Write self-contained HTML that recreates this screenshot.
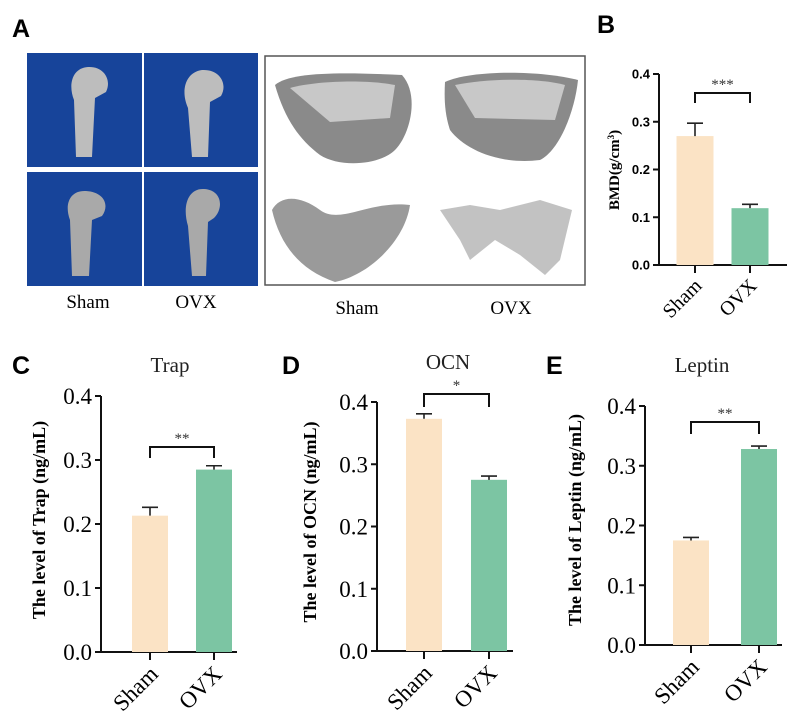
<!DOCTYPE html>
<html><head><meta charset="utf-8"><style>
html,body{margin:0;padding:0;background:#fff;}
svg{display:block;font-family:"Liberation Serif",serif;}
.lt{font-family:"Liberation Sans",sans-serif;font-weight:bold;font-size:25px;}
</style></head><body>
<svg id="fig" width="796" height="724" viewBox="0 0 796 724">
<text class="lt" x="12" y="37">A</text>
<g>
<rect x="27" y="53" width="115" height="114" fill="#17449a"/>
<rect x="144" y="53" width="114" height="114" fill="#17449a"/>
<rect x="27" y="172" width="115" height="114" fill="#17449a"/>
<rect x="144" y="172" width="114" height="114" fill="#17449a"/>
<path d="M76,157 L74,100 C68,85 72,68 88,67 C104,66 112,80 106,92 L95,98 L92,157 Z" fill="#bdbdbd"/>
<path d="M192,157 L188,108 C180,90 186,72 202,70 C220,69 228,84 221,96 L210,102 L208,157 Z" fill="#bdbdbd"/>
<path d="M72,276 L70,220 C64,204 70,190 86,191 C104,192 110,205 102,216 L92,220 L89,276 Z" fill="#a9a9a9"/>
<path d="M192,276 L188,226 C182,206 188,188 204,189 C222,190 224,208 214,218 L208,222 L206,276 Z" fill="#a9a9a9"/>
</g>
<rect x="265" y="56" width="320" height="229" fill="#fff" stroke="#555" stroke-width="1.5"/>
<path d="M275,85 C290,72 340,72 402,75 C420,95 410,135 395,150 C380,165 340,168 320,155 C300,140 285,120 275,85 Z" fill="#8a8a8a"/>
<path d="M290,88 C320,80 370,80 395,85 L390,118 L330,122 Z" fill="#c8c8c8"/>
<path d="M445,82 C470,70 540,70 578,80 C575,110 560,150 540,160 C500,165 465,150 450,130 C445,115 444,100 445,82 Z" fill="#8a8a8a"/>
<path d="M455,85 C490,78 540,78 565,85 L555,120 L475,118 Z" fill="#c8c8c8"/>
<path d="M272,210 C280,195 300,195 320,210 C340,225 370,200 410,205 C405,240 370,275 335,282 C300,270 280,245 272,210 Z" fill="#9a9a9a"/>
<path d="M440,210 L470,205 L500,210 L540,200 L572,210 L560,260 L545,275 L520,255 L495,240 L470,260 L460,240 Z" fill="#a8a8a8" opacity="0.7"/>
<text x="88" y="308" font-size="19" text-anchor="middle">Sham</text>
<text x="196" y="308" font-size="19" text-anchor="middle">OVX</text>
<text x="357" y="314" font-size="19" text-anchor="middle">Sham</text>
<text x="511" y="314" font-size="19" text-anchor="middle">OVX</text>
<text class="lt" x="597" y="33">B</text>
<text class="lt" x="12" y="374">C</text>
<text class="lt" x="282" y="374">D</text>
<text class="lt" x="546" y="374">E</text>
</svg>
<script>
const categories = ["Sham", "OVX"];
const bmdValues = [0.27, 0.119];
const bmdErrors = [0.027, 0.008];
const trapValues = [0.213, 0.285];
const trapErrors = [0.013, 0.006];
const ocnValues = [0.373, 0.275];
const ocnErrors = [0.008, 0.006];
const leptinValues = [0.175, 0.328];
const leptinErrors = [0.005, 0.005];
const yTicks = [0.0, 0.1, 0.2, 0.3, 0.4];
const yTickLabels = ["0.0", "0.1", "0.2", "0.3", "0.4"];
const colors = ["#fbe3c5", "#7cc5a3"];
const NS = "http://www.w3.org/2000/svg";
const svg = document.getElementById("fig");
function mk(tag, attrs, parent, text) {
  const e = document.createElementNS(NS, tag);
  for (const k in attrs) e.setAttribute(k, attrs[k]);
  if (text !== undefined) e.textContent = text;
  parent.appendChild(e);
  return e;
}
function panel(p) {
  const g = mk("g", {}, svg);
  
  
  const y = v => p.y0 - (v / 0.4) * (p.y0 - p.y4);
  const ax = mk("path", {d: `M${p.ax},${p.y4} V${p.y0} H${p.axEnd}`, stroke: "#111", "stroke-width": 2, fill: "none"}, g);
  
  
  yTicks.forEach((t, i) => {
    const tk = mk("line", {x1: p.ax - 6, x2: p.ax, y1: y(t), y2: y(t), stroke: "#111", "stroke-width": 2}, g);
    
    
    const tl = mk("text", {x: p.ax - 9, y: y(t) + p.tickFs * 0.35, "text-anchor": "end", "font-size": p.tickFs, style: p.sansTicks ? "font-family:'Liberation Sans',sans-serif;font-weight:bold" : ""}, g, yTickLabels[i]);
    
    
  });
  categories.forEach((c, i) => {
    const v = p.values[i], e = p.errors[i];
    const cx = p.cx[i];
    const bar = mk("rect", {x: cx - p.bw / 2, y: y(v), width: p.bw, height: p.y0 - y(v), fill: colors[i]}, g);
    
    
    const eb = mk("path", {d: `M${cx},${y(v)} V${y(v + e)} M${cx - 8},${y(v + e)} H${cx + 8}`, stroke: "#222", "stroke-width": 1.6, fill: "none"}, g);
    
    
    const xt = mk("line", {x1: cx, x2: cx, y1: p.y0, y2: p.y0 + 8, stroke: "#111", "stroke-width": 2}, g);
    
    
    const lx = cx - 2, ly = p.y0 + 12;
    const xl = mk("text", {x: lx, y: ly, "text-anchor": "end", "font-size": p.xFs, transform: `rotate(-45 ${lx} ${ly})`, dy: p.xFs * 0.7}, g, c);
    
    
  });
  const br = mk("path", {d: `M${p.cx[0]},${p.brY + p.brLeg} V${p.brY} H${p.cx[1]} V${p.brY + p.brLeg}`, stroke: "#111", "stroke-width": 2, fill: "none"}, g);
  
  
  const st = mk("text", {x: (p.cx[0] + p.cx[1]) / 2, y: p.brY - 4, "text-anchor": "middle", "font-size": 15, fill: "#333"}, g, p.stars);
  
  
  const yt = mk("text", {x: p.ytX, y: p.ytY, "text-anchor": "middle", "font-size": p.ytFs, "font-weight": "bold", transform: `rotate(-90 ${p.ytX} ${p.ytY})`}, g);
  yt.innerHTML = p.ytitle;
  
  
  if (p.title) {
    const tt = mk("text", {x: p.titleX, y: p.titleY, "text-anchor": "middle", "font-size": 21, fill: "#222"}, g, p.title);
    
    
  }
}
panel({name: "bmd", values: bmdValues, errors: bmdErrors, ax: 659, axEnd: 787, y0: 265, y4: 74, cx: [695, 750], bw: 37, brY: 93, brLeg: 10, stars: "***", tickFs: 13, sansTicks: true, xFs: 20, ytX: 619, ytY: 170, ytFs: 15, ytitle: 'BMD(g/cm<tspan baseline-shift="super" font-size="9">3</tspan>)'});
panel({name: "trap", values: trapValues, errors: trapErrors, ax: 101, axEnd: 237, y0: 652, y4: 396, cx: [150, 214], bw: 36, brY: 447, brLeg: 11, stars: "**", tickFs: 23, xFs: 23, ytX: 45, ytY: 520, ytFs: 18, ytitle: "The level of Trap (ng/mL)", title: "Trap", titleX: 170, titleY: 372});
panel({name: "ocn", values: ocnValues, errors: ocnErrors, ax: 377, axEnd: 513, y0: 651, y4: 402, cx: [424, 489], bw: 36, brY: 394, brLeg: 13, stars: "*", tickFs: 23, xFs: 23, ytX: 316, ytY: 522, ytFs: 18, ytitle: "The level of OCN (ng/mL)", title: "OCN", titleX: 448, titleY: 369});
panel({name: "leptin", values: leptinValues, errors: leptinErrors, ax: 645, axEnd: 782, y0: 645, y4: 406, cx: [691, 759], bw: 36, brY: 422, brLeg: 12, stars: "**", tickFs: 23, xFs: 23, ytX: 581, ytY: 520, ytFs: 18, ytitle: "The level of Leptin (ng/mL)", title: "Leptin", titleX: 702, titleY: 372});
</script>
</body></html>
